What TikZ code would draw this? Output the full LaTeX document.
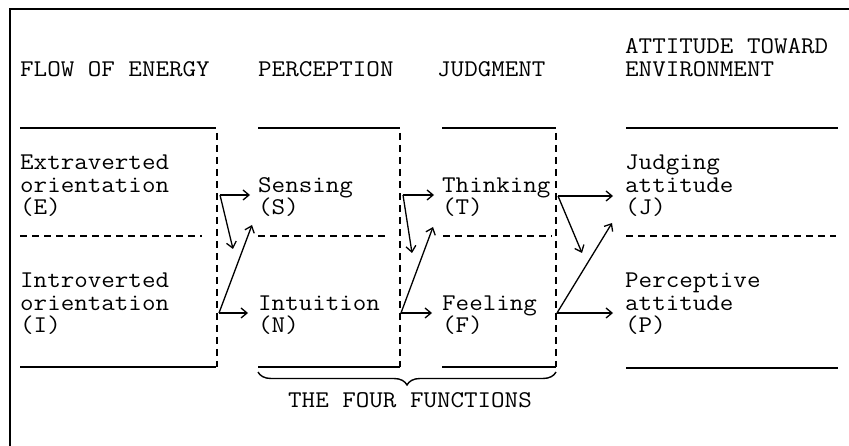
\documentclass[tikz,border=0pt]{standalone}
\usepackage{fontspec}
\usepackage{graphicx}
\usetikzlibrary{arrows.meta,decorations.pathreplacing}
\newcommand{\wtxt}[1]{\scalebox{1.095}[1]{#1}}
\tikzset{
  txt/.style={anchor=base west,inner sep=0pt,font=\ttfamily\fontsize{24}{24}\selectfont},
  rule/.style={line width=1.4pt},
  dashline/.style={line width=1.2pt,dash pattern=on 7pt off 5pt},
  arr/.style={line width=1.3pt,-{Straight Barb[length=6pt,width=10pt,line width=1.3pt]}},
}
\begin{document}
\begin{tikzpicture}[x=1pt,y=-1pt]
\useasboundingbox (0,0) rectangle (849,446);
% frame
\coordinate (fl) at (10,446);
\coordinate (fc) at (10,9);
\coordinate (fr) at (849,9);
\draw[line width=1.5pt] (fl) -- (fc) -- (fr);
% headings
\node[txt] (h1) at (20,77) {\wtxt{FLOW OF ENERGY}};
\node[txt] (h2) at (258,77) {\wtxt{PERCEPTION}};
\node[txt] (h3) at (437,77) {\wtxt{JUDGMENT}};
\node[txt] (h4a) at (625,54) {\wtxt{ATTITUDE TOWARD}};
\node[txt] (h4b) at (625,77) {\wtxt{ENVIRONMENT}};
% top rules
\draw[rule] (20,128) -- (216,128);
\draw[rule] (258,128) -- (400,128);
\draw[rule] (442,128) -- (556,128);
\draw[rule] (626,128) -- (838,128);
% bottom rules
\draw[rule] (20,367) -- (216,367);
\draw[rule] (258,367) -- (400,367);
\draw[rule] (442,367) -- (556,367);
\draw[rule] (626,368) -- (838,368);
% middle dashed
\draw[dashline] (20,236) -- (202,236);
\draw[dashline] (258,236) -- (387,236);
\draw[dashline] (443,236) -- (552,236);
\draw[dashline] (626,236) -- (836,236);
% vertical dashed
\draw[dashline] (217,133) -- (217,367);
\draw[dashline] (400,133) -- (400,367);
\draw[dashline] (556,133) -- (556,367);
% texts
\node[txt] (e1) at (20,170) {\wtxt{Extraverted}};
\node[txt] (e2) at (20,193) {\wtxt{orientation}};
\node[txt] (e3) at (20,215) {\wtxt{(E)}};
\node[txt] (s1) at (258,193) {\wtxt{Sensing}};
\node[txt] (s2) at (258,215) {\wtxt{(S)}};
\node[txt] (t1) at (442,193) {\wtxt{Thinking}};
\node[txt] (t2) at (442,215) {\wtxt{(T)}};
\node[txt] (j1) at (625,170) {\wtxt{Judging}};
\node[txt] (j2) at (625,193) {\wtxt{attitude}};
\node[txt] (j3) at (625,215) {\wtxt{(J)}};
\node[txt] (i1) at (20,288) {\wtxt{Introverted}};
\node[txt] (i2) at (20,311) {\wtxt{orientation}};
\node[txt] (i3) at (20,333) {\wtxt{(I)}};
\node[txt] (n1) at (258,311) {\wtxt{Intuition}};
\node[txt] (n2) at (258,333) {\wtxt{(N)}};
\node[txt] (f1) at (442,311) {\wtxt{Feeling}};
\node[txt] (f2) at (442,333) {\wtxt{(F)}};
\node[txt] (p1) at (625,288) {\wtxt{Perceptive}};
\node[txt] (p2) at (625,311) {\wtxt{attitude}};
\node[txt] (p3) at (625,333) {\wtxt{(P)}};
% arrows group 1
\coordinate (a1) at (220,195);
\coordinate (a1r) at (250,195);
\coordinate (a1d) at (233,249);
\coordinate (b1) at (219,313);
\coordinate (b1r) at (248,313);
\coordinate (b1u) at (252,225);
\draw[arr] (a1) -- (a1r);
\draw[arr] (a1) -- (a1d);
\draw[arr] (b1) -- (b1r);
\draw[arr] (b1) -- (b1u);
% arrows group 2
\coordinate (a2) at (403,195);
\coordinate (a2r) at (434,195);
\coordinate (a2d) at (412,253);
\coordinate (b2) at (401,313);
\coordinate (b2r) at (432,313);
\coordinate (b2u) at (433,227);
\draw[arr] (a2) -- (a2r);
\draw[arr] (a2) -- (a2d);
\draw[arr] (b2) -- (b2r);
\draw[arr] (b2) -- (b2u);
% arrows group 3
\coordinate (a3) at (558,196);
\coordinate (a3r) at (613,196);
\coordinate (a3d) at (582,253);
\coordinate (b3) at (557,313);
\coordinate (b3r) at (613,313);
\coordinate (b3u) at (612,223);
\draw[arr] (a3) -- (a3r);
\draw[arr] (a3) -- (a3d);
\draw[arr] (b3) -- (b3r);
\draw[arr] (b3) -- (b3u);
% brace
\coordinate (br1) at (258,372);
\coordinate (br2) at (556,372);
\draw[line width=1.4pt,decorate,decoration={brace,mirror,amplitude=13pt}] (br1) -- (br2);
\node[txt] (four) at (288,407) {\wtxt{THE FOUR FUNCTIONS}};
\end{tikzpicture}
\end{document}
